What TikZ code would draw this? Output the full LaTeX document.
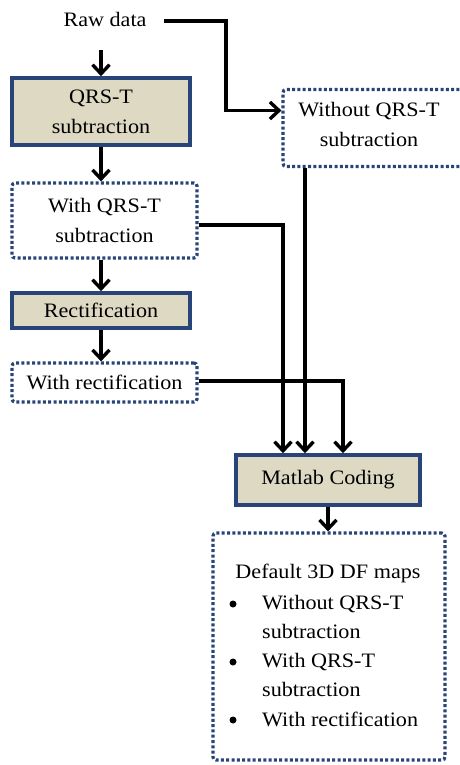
\documentclass[tikz,border=0pt]{standalone}
\usepackage{fontspec}
\setmainfont{Liberation Serif}[FakeStretch=1.08]
\usetikzlibrary{arrows.meta}

\definecolor{boxblue}{RGB}{40,68,120}
\definecolor{boxtan}{RGB}{221,217,195}

\tikzset{
  every node/.style={font=\fontsize{20.5}{30}\selectfont, inner sep=0pt, align=center},
  procbox/.style={draw=boxblue, line width=3.6pt, fill=boxtan, rectangle},
  databox/.style={draw=boxblue, line width=3.2pt, dash pattern=on 3pt off 2.3pt,
                  rounded corners=3pt, rectangle, fill=white},
  flow/.style={draw=black, line width=3.6pt,
               -{Straight Barb[length=9pt,width=17pt,line width=3.4pt]}},
  itemtext/.style={anchor=west, align=left, font=\fontsize{20.5}{29}\selectfont},
  dot/.style={circle, fill=black, minimum size=7pt},
}

\begin{document}
\begin{tikzpicture}[x=1pt,y=-1pt]
\useasboundingbox (0,0) rectangle (460,765);

% process and data boxes
\node (raw) at (105,19) {Raw data};
\node[procbox, minimum width=178pt, minimum height=67pt] (qrs) at (101,111.5) {QRS-T\\subtraction};
\node[databox, minimum width=190pt, minimum height=77pt] (without) at (378,128) {};
\node (withouttxt) at (369,124) {Without QRS-T\\subtraction};
\node[databox, minimum width=185pt, minimum height=75pt] (withqrs) at (104.5,220.5) {With QRS-T\\subtraction};
\node[procbox, minimum width=178pt, minimum height=35pt] (rect) at (101,310.5) {Rectification};
\node[databox, minimum width=185pt, minimum height=39pt] (withrect) at (104.5,382.5) {With rectification};
\node[procbox, minimum width=184pt, minimum height=50pt] (matlab) at (328,480) {Matlab Coding};
\node[databox, minimum width=232pt, minimum height=227pt] (default) at (329,646.5) {};

% contents of the output box
\node (deftitle) at (328,573) {Default 3D DF maps};
\node[dot] (b1) at (233,604) {};
\node[dot] (b2) at (233,662) {};
\node[dot] (b3) at (233,720) {};
\node[itemtext] (i1) at (262,617) {Without QRS-T\\subtraction};
\node[itemtext] (i2) at (262,675) {With QRS-T\\subtraction};
\node[itemtext] (i3) at (262,719) {With rectification};

% main chain on the left
\draw[flow] ([yshift=-24pt]qrs.north |- raw.south) -- (qrs.north);
\draw[flow] (qrs.south) -- (qrs.south |- withqrs.north);
\draw[flow] (rect.north |- withqrs.south) -- (rect.north);
\draw[flow] (rect.south) -- (rect.south |- withrect.north);

% raw data branch without subtraction
\draw[flow] ([xshift=17pt,yshift=-2pt]raw.east) -- (226,21) -- (226,110.5) -- ([yshift=17.5pt]without.west);

% the three data sets into the coding step
\draw[flow] ([yshift=-4.5pt]withqrs.east) -| ([xshift=-45pt]matlab.north);
\draw[flow] ([xshift=-73pt]without.south) -- ([xshift=-23pt]matlab.north);
\draw[flow] ([yshift=1.5pt]withrect.east) -| ([xshift=15pt]matlab.north);

% coding step to the output maps
\draw[flow] (matlab.south) -- (matlab.south |- default.north);
\end{tikzpicture}
\end{document}
